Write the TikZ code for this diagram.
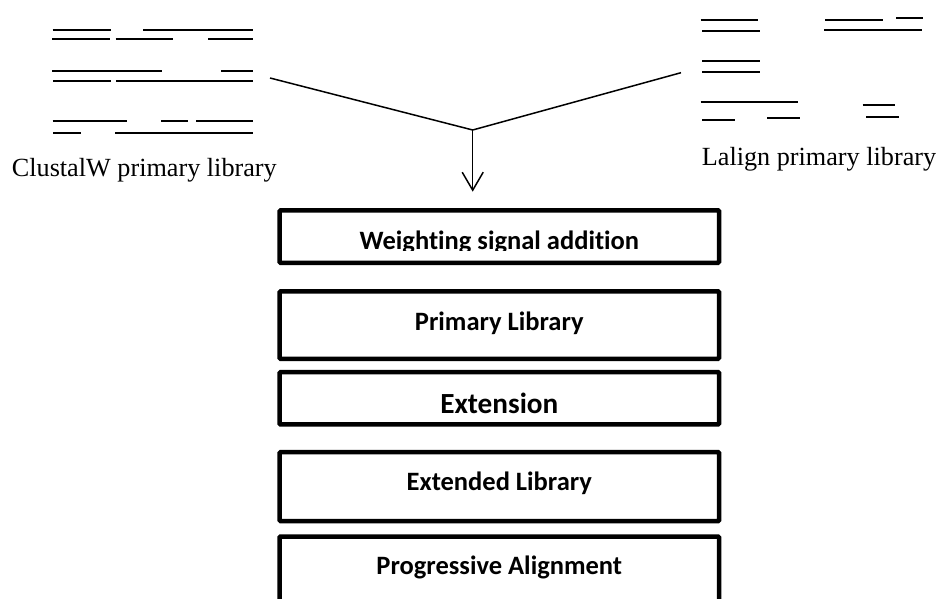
\documentclass[tikz,border=0pt]{standalone}
\usepackage{fontspec}
\setmainfont{Liberation Serif}
\newfontfamily\boxfont[Ligatures=NoCommon]{Carlito}
\usetikzlibrary{arrows.meta}
\tikzset{
  seq/.style={line width=1.7pt},
  link/.style={line width=1.5pt},
  stage/.style={draw, line width=4.5pt, rounded corners=1pt},
  stagetext/.style={font=\boxfont\bfseries\fontsize{26.5}{30}\selectfont, anchor=base, inner sep=0pt},
  libtext/.style={font=\fontsize{26.2}{30}\selectfont, anchor=base west, inner sep=0pt}
}
\begin{document}
\begin{tikzpicture}[x=1pt,y=-1pt]
\useasboundingbox (0,0) rectangle (939,599);

% aligned sequences of the ClustalW library
\draw[seq] (52.7,30) -- (110.7,30) (143.3,30) -- (253.3,30);
\draw[seq] (52,39) -- (110,39) (115.7,39) -- (173.3,39) (208.3,39) -- (253.3,39);
\draw[seq] (52,71) -- (162.3,71) (221,71) -- (253,71);
\draw[seq] (53,81.3) -- (111,81.3) (116,81.3) -- (253,81.3);
\draw[seq] (52.7,121) -- (126.7,121) (161,121) -- (188,121) (196,121) -- (253,121);
\draw[seq] (53.3,132.7) -- (80.7,132.7) (115.3,132.7) -- (252.7,132.7);

% aligned sequences of the Lalign library
\draw[seq] (700.7,20.3) -- (758.3,20.3);
\draw[seq] (702,30.7) -- (759.7,30.7);
\draw[seq] (825,19.7) -- (882.7,19.7) (896,18.3) -- (922.7,18.3);
\draw[seq] (824.3,30.3) -- (922,30.3);
\draw[seq] (702,61.3) -- (759.7,61.3);
\draw[seq] (702,72) -- (759.7,72);
\draw[seq] (700.7,102) -- (798.3,102);
\draw[seq] (702,119.7) -- (734.7,119.7) (767,118) -- (800,118);
\draw[seq] (862.7,105) -- (895,105);
\draw[seq] (866,117.3) -- (898.7,117.3);

% library captions
\node[libtext] (clustal) at (11.7,176) {ClustalW primary library};
\node[libtext] (lalign) at (701.7,165) {Lalign primary library};

% the two libraries merge and feed the pipeline
\coordinate (lend) at (270,78);
\coordinate (rend) at (681,72.7);
\coordinate (join) at (472.7,130);
\coordinate (tip) at (472.7,191.7);
\draw[link] (lend) -- (join) -- (rend);
\draw[link, -{Straight Barb[length=18pt,width=21pt,line width=1.5pt]}] (join) -- (tip);

% pipeline stages
\node[stage, minimum width=439.5pt, minimum height=52.3pt] (s1) at (499.3,236.6) {};
\node[stage, minimum width=439.5pt, minimum height=67.3pt] (s2) at (499.3,325.1) {};
\node[stage, minimum width=439.5pt, minimum height=52.3pt] (s3) at (499.3,398.3) {};
\node[stage, minimum width=439.5pt, minimum height=68.9pt] (s4) at (499.3,486.6) {};
\node[stage, minimum width=439.5pt, minimum height=100pt] (s5) at (499.3,586.5) {};

\begin{scope}
  \clip (0,0) rectangle (939,250.5);
  \node[stagetext] (t1) at (499.3,249.3) {Weighting signal addition};
\end{scope}
\node[stagetext] (t2) at (499.3,330) {Primary Library};
\node[stagetext, font=\boxfont\bfseries\fontsize{29.2}{33}\selectfont] (t3) at (499.3,413.3) {Extension};
\node[stagetext] (t4) at (499.3,490) {Extended Library};
\node[stagetext] (t5) at (499.3,574.3) {Progressive Alignment};
\end{tikzpicture}
\end{document}
